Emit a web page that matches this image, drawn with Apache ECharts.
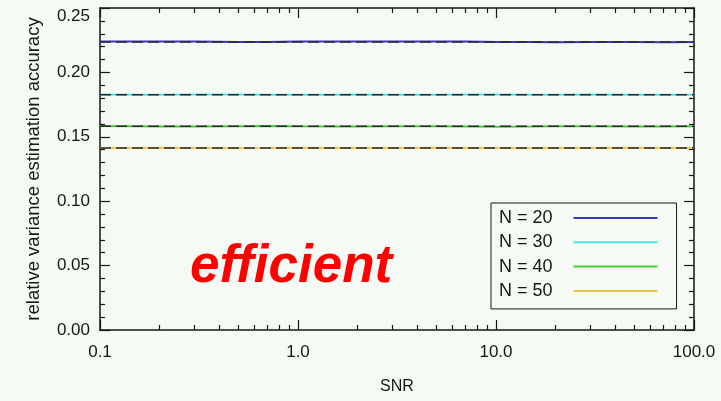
<!DOCTYPE html>
<html>
<head>
<meta charset="utf-8">
<script src="https://cdn.jsdelivr.net/npm/echarts@6/dist/echarts.min.js"></script>
<style>
  html, body { margin: 0; padding: 0; background: #f6faf4; }
  #chart { width: 721px; height: 401px; }
</style>
</head>
<body>
<div id="chart"></div>
<script>
// SNR sample points (log axis)
const snr = [0.1, 0.15, 0.2, 0.3, 0.5, 0.7, 1, 1.5, 2, 3, 5, 7, 10, 15, 20, 30, 50, 70, 100];

// Measured relative variance estimation accuracy for each sample size N
const accN20 = [0.2240, 0.2240, 0.2240, 0.2239, 0.2236, 0.2236, 0.2239, 0.2240, 0.2240, 0.2240, 0.2239, 0.2239, 0.2236, 0.2236, 0.2235, 0.2236, 0.2236, 0.2235, 0.2236];
const accN30 = [0.1828, 0.1827, 0.1826, 0.1828, 0.1829, 0.1827, 0.1826, 0.1827, 0.1828, 0.1826, 0.1827, 0.1828, 0.1829, 0.1827, 0.1826, 0.1828, 0.1827, 0.1826, 0.1827];
const accN40 = [0.1583, 0.1581, 0.1579, 0.1580, 0.1582, 0.1583, 0.1581, 0.1580, 0.1579, 0.1581, 0.1582, 0.1580, 0.1578, 0.1579, 0.1581, 0.1582, 0.1580, 0.1579, 0.1581];
const accN50 = [0.1414, 0.1413, 0.1415, 0.1414, 0.1412, 0.1413, 0.1415, 0.1414, 0.1413, 0.1414, 0.1415, 0.1413, 0.1414, 0.1412, 0.1413, 0.1414, 0.1415, 0.1413, 0.1414];

// Reference (bound) levels drawn as dashed lines
const boundLevels = [0.2236, 0.1826, 0.1581, 0.1414];
const snrRange = [0.1, 100];

const seriesNames = ['N = 20', 'N = 30', 'N = 40', 'N = 50'];
const seriesValues = [accN20, accN30, accN40, accN50];
const seriesColors = ['#3b32c8', '#4fe2e6', '#48cc3a', '#f2c64a'];

// Tick positions
const xMajorTicks = [0.1, 1, 10, 100];
const xMinorTicks = [0.2, 0.3, 0.4, 0.5, 0.6, 0.7, 0.8, 0.9, 2, 3, 4, 5, 6, 7, 8, 9, 20, 30, 40, 50, 60, 70, 80, 90];

const FONT = '"Liberation Sans", Arial, Helvetica, sans-serif';
const INK = '#161616';

const chart = echarts.init(document.getElementById('chart'), null, { renderer: 'canvas' });

function logAxis(position, ticks, len, opts) {
  return Object.assign({
    type: 'log', logBase: 10, min: 0.1, max: 100, position: position,
    axisLine: { show: false },
    axisTick: { show: true, inside: true, length: len, customValues: ticks, lineStyle: { color: INK, width: 1.2 } },
    axisLabel: { show: false },
    splitLine: { show: false },
    minorTick: { show: false }
  }, opts || {});
}

function valueAxis(position, withLabels, opts) {
  return Object.assign({
    type: 'value', min: 0, max: 0.25, interval: 0.05, position: position,
    axisLine: { show: true, lineStyle: { color: INK, width: 1.5 } },
    axisTick: { show: true, inside: true, length: 10, lineStyle: { color: INK, width: 1.2 } },
    minorTick: { show: true, splitNumber: 5, length: 5, lineStyle: { color: INK, width: 1.2 } },
    splitLine: { show: false },
    minorSplitLine: { show: false },
    axisLabel: withLabels ? {
      show: true, margin: 10, fontSize: 17, color: INK, fontFamily: FONT,
      formatter: v => v.toFixed(2),
      verticalAlignMaxLabel: 'top'
    } : { show: false }
  }, opts || {});
}

const series = [];
seriesNames.forEach((name, i) => {
  series.push({
    name: name,
    type: 'line',
    xAxisIndex: 0, yAxisIndex: 0,
    data: snr.map((s, k) => [s, seriesValues[i][k]]),
    showSymbol: false,
    symbol: 'none',
    color: seriesColors[i],
    lineStyle: { color: seriesColors[i], width: 2 },
    z: 2
  });
});
boundLevels.forEach((lvl, i) => {
  series.push({
    name: 'bound ' + i,
    type: 'line',
    xAxisIndex: 0, yAxisIndex: 0,
    data: snrRange.map(s => [s, lvl]),
    showSymbol: false,
    symbol: 'none',
    lineStyle: { color: '#2a2a2a', width: 1.5, type: [11, 5] },
    z: 3
  });
});

chart.setOption({
  backgroundColor: '#f6faf4',
  animation: false,
  textStyle: { fontFamily: FONT },
  grid: { left: 100, right: 27, top: 8, bottom: 71 },
  xAxis: [
    logAxis('bottom', xMajorTicks, 10, {
      axisLine: { show: true, lineStyle: { color: INK, width: 1.5 } },
      axisLabel: {
        show: true, customValues: xMajorTicks, margin: 14, fontSize: 17, color: INK, fontFamily: FONT,
        formatter: v => Number(v).toFixed(1)
      },
      name: 'SNR', nameLocation: 'middle', nameGap: 49,
      nameTextStyle: { fontSize: 16, color: INK, fontFamily: FONT }
    }),
    logAxis('bottom', xMinorTicks, 5),
    logAxis('top', xMajorTicks, 10, { axisLine: { show: true, lineStyle: { color: INK, width: 1.5 } } }),
    logAxis('top', xMinorTicks, 5)
  ],
  yAxis: [
    valueAxis('left', true, {
      name: 'relative variance estimation accuracy', nameLocation: 'middle', nameGap: 57,
      nameTextStyle: { fontSize: 18.5, color: INK, fontFamily: FONT }
    }),
    valueAxis('right', false)
  ],
  legend: {
    data: seriesNames,
    orient: 'vertical',
    left: 491, top: 203,
    align: 'right',
    icon: 'rect',
    itemWidth: 84, itemHeight: 2,
    itemGap: 4.3,
    padding: [5, 19, 8, 8],
    borderColor: INK, borderWidth: 1,
    backgroundColor: 'transparent',
    textStyle: { fontSize: 18, color: INK, fontFamily: FONT, lineHeight: 20, padding: [0, 16, 0, 0] }
  },
  graphic: [{
    type: 'text',
    left: 190, top: 241,
    style: {
      text: 'efficient',
      fill: '#ff0000',
      font: 'italic bold 53px ' + FONT
    }
  }],
  series: series
});
</script>
</body>
</html>
